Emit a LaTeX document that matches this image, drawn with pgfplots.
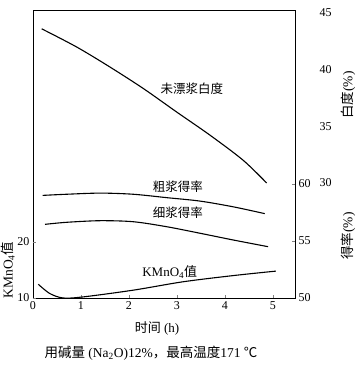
\documentclass[border=0pt]{standalone}
\usepackage{fontspec}
\setmainfont{Liberation Serif}
\newfontfamily\cjk{Noto Sans CJK SC}
\usepackage{pgfplots}
\pgfplotsset{compat=1.18}
\pgfplotsset{common/.style={scale only axis, width=262pt, height=288pt, at={(0pt,0pt)}, anchor=south west,
  xmin=0, xmax=5.46, /pgf/number format/assume math mode=true,
  tick label style={font=\fontsize{12}{12}\selectfont}},
  crv/.style={black, mark=none, smooth, tension=0.5, line width=1.1pt}}
\begin{document}
\begin{tikzpicture}
\useasboundingbox (-33pt,-70pt) rectangle (327pt,298pt);
% yield axis (frame)
\begin{axis}[common, ymin=50, ymax=75.26, xtick={0,1,2,3,4,5}, ytick={50,55,60},
  xtick pos=bottom, ytick pos=right, tick align=inside, major tick length=3pt,
  axis line style={line width=0.8pt}]
\addplot[crv] coordinates {(0.2,59.0)(0.7,59.1)(1.4,59.2)(2.09,59.1)(2.79,58.8)(3.48,58.5)(4.17,58.0)(4.83,57.4)};
\addplot[crv] coordinates {(0.25,56.46)(0.7,56.64)(1.4,56.78)(2.09,56.69)(2.79,56.25)(3.48,55.68)(4.17,55.09)(4.9,54.5)};
\node[font=\cjk\fontsize{12.5}{12.5}\selectfont] at (axis cs:3.02,59.8) {粗浆得率};
\node[font=\cjk\fontsize{12.5}{12.5}\selectfont] at (axis cs:3.02,57.45) {细浆得率};
\end{axis}
% KMnO4 axis
\begin{axis}[common, ymin=10, ymax=61.43, xtick=\empty, ytick={10,20}, ytick pos=left,
  axis line style={draw=none}, tick align=inside, major tick length=3pt, clip=false]
\addplot[crv] coordinates {(0.11,12.45)(0.35,10.8)(0.63,10.0)(1.05,10.2)(2.09,11.4)(3.13,12.9)(4.17,14.0)(5.06,14.8)};
\node[font=\fontsize{13}{13}\selectfont] at (axis cs:2.85,14.6) {KMnO\textsubscript{4}{\cjk 值}};
\end{axis}
% whiteness axis
\begin{axis}[common, ymin=19.9, ymax=45.2, xtick=\empty, ytick={30,35,40,45}, ytick pos=right,
  axis line style={draw=none}, major tick length=0pt, yticklabel style={xshift=21pt}]
\addplot[crv] coordinates {(0.18,43.55)(0.91,41.95)(1.60,40.2)(2.30,38.3)(2.99,36.25)(3.69,34.2)(4.38,32.0)(4.87,30.0)};
\node[font=\cjk\fontsize{12.5}{12.5}\selectfont] at (axis cs:3.31,38.3) {未漂浆白度};
\end{axis}
\node[rotate=90, font=\fontsize{13.5}{13.5}\selectfont] at (315pt,203pt) {{\cjk 白度}(\%)};
\node[rotate=90, font=\fontsize{13.5}{13.5}\selectfont] at (315pt,62pt) {{\cjk 得率}(\%)};
\node[rotate=90, font=\fontsize{13.5}{13.5}\selectfont] at (-25pt,28pt) {KMnO\textsubscript{4}{\cjk 值}};
\node[font=\fontsize{13}{13}\selectfont] at (124pt,-30pt) {{\cjk 时间} (h)};
\node[font=\fontsize{13.5}{13.5}\selectfont] at (118pt,-55pt) {{\cjk 用碱量} (Na\textsubscript{2}O)12\%{\cjk ，最高温度}171 {\cjk ℃}};
\end{tikzpicture}
\end{document}
